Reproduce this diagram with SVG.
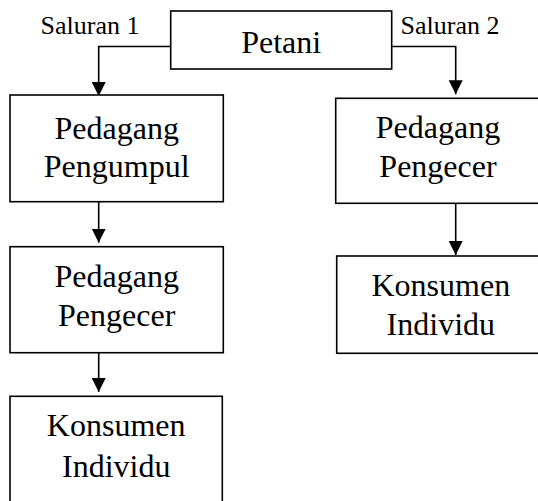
<svg xmlns="http://www.w3.org/2000/svg" width="538" height="501" viewBox="0 0 538 501">
<style>
.box{fill:#fff;stroke:#000;stroke-width:1.6}
.t{font-family:'Liberation Serif','DejaVu Serif',serif;font-size:32px;fill:#000;text-anchor:middle}
.s{font-family:'Liberation Serif','DejaVu Serif',serif;font-size:26px;fill:#000}
.c{fill:none;stroke:#000;stroke-width:1.6}
</style>
<defs>
<marker id="ah" markerUnits="userSpaceOnUse" markerWidth="15" markerHeight="16" refX="14" refY="7" orient="auto">
<path d="M0,0 L14,7 L0,14 Z" fill="#000"/>
</marker>
</defs>
<rect width="538" height="501" fill="#fff"/>
<g id="connectors">
<path class="c" d="M170.7,46.5 H98.7 V96" marker-end="url(#ah)"/>
<path class="c" d="M391.7,46.5 H455.7 V94.3" marker-end="url(#ah)"/>
<path class="c" d="M98.7,201.7 V242.7" marker-end="url(#ah)"/>
<path class="c" d="M98.7,352.7 V392" marker-end="url(#ah)"/>
<path class="c" d="M455.7,203.3 V255" marker-end="url(#ah)"/>
</g>
<g id="label-saluran1"><text class="s" x="40.5" y="33.5">Saluran 1</text></g>
<g id="label-saluran2"><text class="s" x="400.5" y="33.5">Saluran 2</text></g>
<g id="petani">
<rect class="box" x="170.7" y="11" width="221" height="58"/>
<text class="t" x="281.2" y="53">Petani</text>
</g>
<g id="pedagang-pengumpul">
<rect class="box" x="10" y="95" width="213.3" height="106.7"/>
<text class="t" x="116.7" y="138.5">Pedagang</text>
<text class="t" x="116.7" y="176.5">Pengumpul</text>
</g>
<g id="pedagang-pengecer-1">
<rect class="box" x="10" y="246.7" width="213.3" height="106"/>
<text class="t" x="116.7" y="286.5">Pedagang</text>
<text class="t" x="116.7" y="325.5">Pengecer</text>
</g>
<g id="konsumen-individu-1">
<rect class="box" x="10" y="396.3" width="212.3" height="120"/>
<text class="t" x="116.2" y="436">Konsumen</text>
<text class="t" x="116.2" y="476.7">Individu</text>
</g>
<g id="pedagang-pengecer-2">
<rect class="box" x="335.7" y="98.3" width="205" height="105"/>
<text class="t" x="438" y="138.3">Pedagang</text>
<text class="t" x="438" y="176.7">Pengecer</text>
</g>
<g id="konsumen-individu-2">
<rect class="box" x="336.7" y="256" width="208" height="97.3"/>
<text class="t" x="440.8" y="296">Konsumen</text>
<text class="t" x="440.8" y="335">Individu</text>
</g>
</svg>
